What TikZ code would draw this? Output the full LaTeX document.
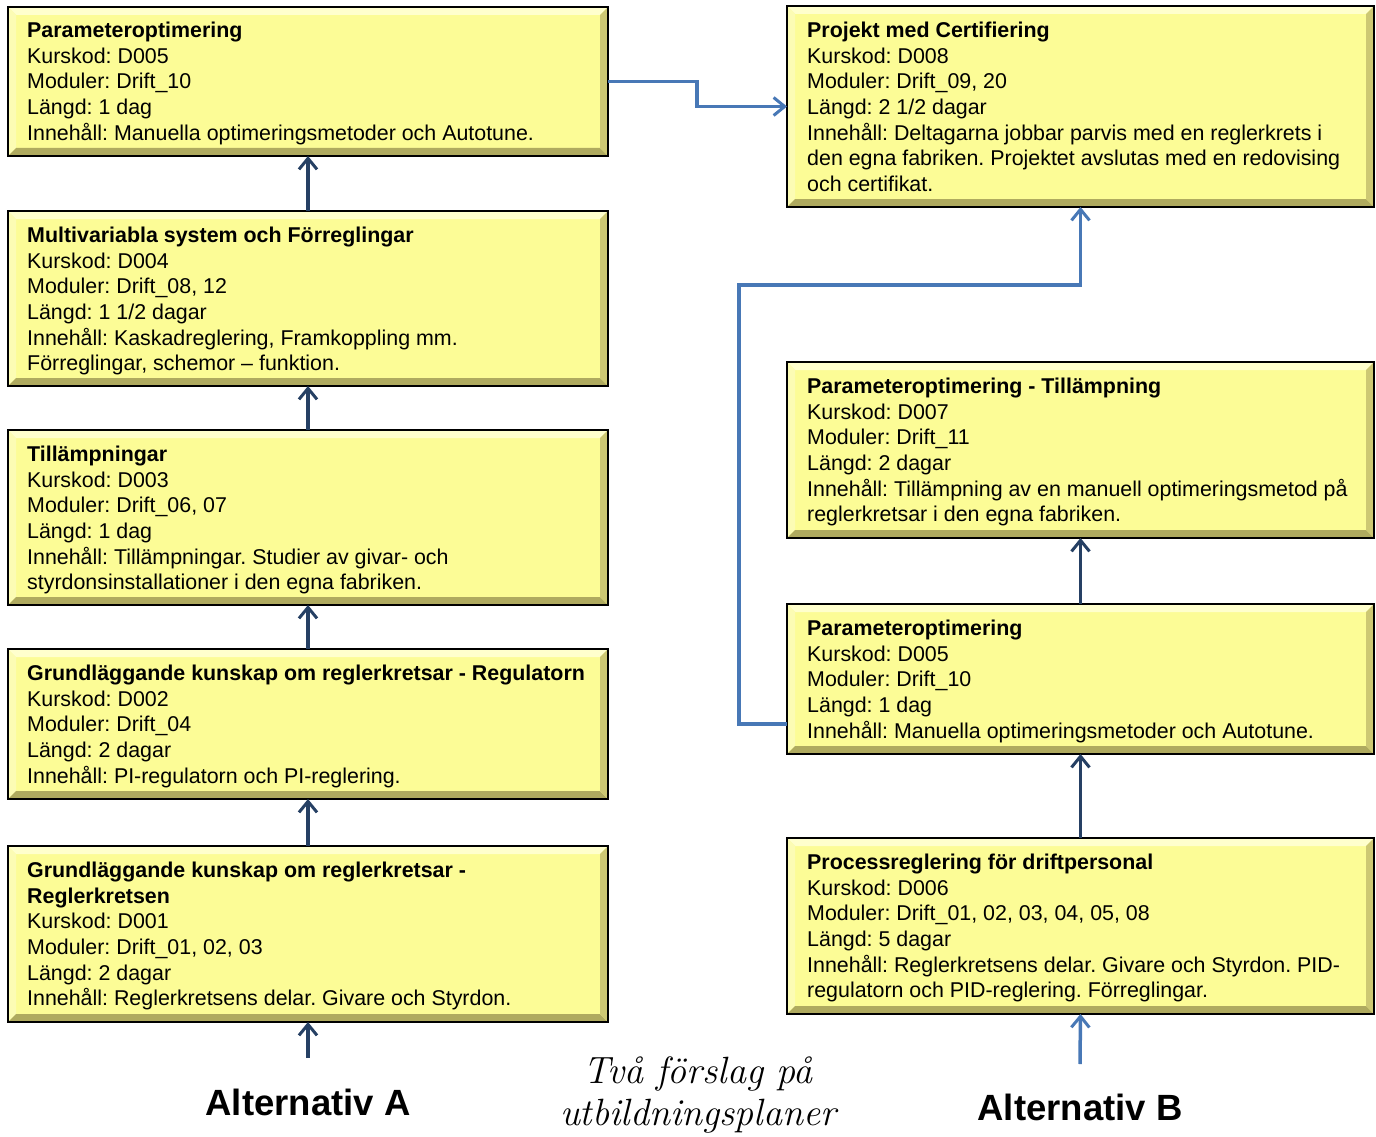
\documentclass[tikz,border=0pt]{standalone}
\usepackage{fontspec}
\setmainfont{Liberation Sans}
\usetikzlibrary{arrows.meta}
\definecolor{boxyellow}{RGB}{252,252,150}
\definecolor{bevlight}{RGB}{255,255,205}
\definecolor{bevleft}{RGB}{252,252,180}
\definecolor{bevdark}{RGB}{175,170,95}
\definecolor{bevright}{RGB}{205,200,115}
\definecolor{navyarrow}{RGB}{38,64,100}
\definecolor{connblue}{RGB}{72,120,182}
\tikzset{
  cbox/.style={draw=black, line width=2pt, fill=boxyellow, anchor=north west,
    inner sep=0pt, outer sep=0pt,
    path picture={
      \fill[bevlight] (path picture bounding box.north west) -- (path picture bounding box.north east)
        -- ([shift={(-8pt,-8pt)}]path picture bounding box.north east) -- ([shift={(8pt,-8pt)}]path picture bounding box.north west) -- cycle;
      \fill[bevleft] (path picture bounding box.north west) -- (path picture bounding box.south west)
        -- ([shift={(8pt,8pt)}]path picture bounding box.south west) -- ([shift={(8pt,-8pt)}]path picture bounding box.north west) -- cycle;
      \fill[bevdark] (path picture bounding box.south west) -- (path picture bounding box.south east)
        -- ([shift={(-8pt,8pt)}]path picture bounding box.south east) -- ([shift={(8pt,8pt)}]path picture bounding box.south west) -- cycle;
      \fill[bevright] (path picture bounding box.north east) -- (path picture bounding box.south east)
        -- ([shift={(-8pt,8pt)}]path picture bounding box.south east) -- ([shift={(-8pt,-8pt)}]path picture bounding box.north east) -- cycle;
    }},
  ctext/.style={anchor=north west, inner sep=0pt, align=left,
    font=\fontsize{21.4}{25.6}\selectfont},
  tip/.style={-{Straight Barb[length=11pt,width=18pt,line width=3pt]}},
  uparrow/.style={draw=navyarrow, line width=3.5pt, tip},
  lightarrow/.style={draw=connblue, line width=3.5pt, tip},
  conn/.style={draw=connblue, line width=3.5pt},
  connarrow/.style={conn, tip},
  alt/.style={font=\fontsize{36.5}{40}\selectfont\bfseries, inner sep=0pt},
  hand/.style={font=\fontfamily{lmr}\fontsize{38}{42}\selectfont\itshape, align=center, inner sep=0pt}
}
\begin{document}
\frenchspacing
\begin{tikzpicture}[x=1pt,y=-1pt]
\useasboundingbox (0,0) rectangle (1376,1137);

% Left column boxes
\node[cbox, minimum width=600pt, minimum height=149pt] (a1) at (8,7) {};
\node[cbox, minimum width=600pt, minimum height=175pt] (a2) at (8,211) {};
\node[cbox, minimum width=600pt, minimum height=175pt] (a3) at (8,430) {};
\node[cbox, minimum width=600pt, minimum height=150pt] (a4) at (8,649) {};
\node[cbox, minimum width=600pt, minimum height=176pt] (a5) at (8,846) {};

% Right column boxes
\node[cbox, minimum width=587pt, minimum height=201pt] (b1) at (787,6) {};
\node[cbox, minimum width=587pt, minimum height=176pt] (b2) at (787,362) {};
\node[cbox, minimum width=587pt, minimum height=150pt] (b3) at (787,604) {};
\node[cbox, minimum width=587pt, minimum height=176pt] (b4) at (787,838) {};

% Texts
\node[ctext] (a1t) at ([shift={(19,15)}]a1.north west) {\textbf{Parameteroptimering}\\Kurskod: D005\\Moduler: Drift\_10\\Längd: 1 dag\\Innehåll: Manuella optimeringsmetoder och Autotune.};
\node[ctext] (a2t) at ([shift={(19,16)}]a2.north west) {\textbf{Multivariabla system och Förreglingar}\\Kurskod: D004\\Moduler: Drift\_08, 12\\Längd: 1 1/2 dagar\\Innehåll: Kaskadreglering, Framkoppling mm.\\Förreglingar, schemor – funktion.};
\node[ctext] (a3t) at ([shift={(19,16)}]a3.north west) {\textbf{Tillämpningar}\\Kurskod: D003\\Moduler: Drift\_06, 07\\Längd: 1 dag\\Innehåll: Tillämpningar. Studier av givar- och\\styrdonsinstallationer i den egna fabriken.};
\node[ctext] (a4t) at ([shift={(19,16)}]a4.north west) {\textbf{Grundläggande kunskap om reglerkretsar - Regulatorn}\\Kurskod: D002\\Moduler: Drift\_04\\Längd: 2 dagar\\Innehåll: PI-regulatorn och PI-reglering.};
\node[ctext] (a5t) at ([shift={(19,16)}]a5.north west) {\textbf{Grundläggande kunskap om reglerkretsar -}\\\textbf{Reglerkretsen}\\Kurskod: D001\\Moduler: Drift\_01, 02, 03\\Längd: 2 dagar\\Innehåll: Reglerkretsens delar. Givare och Styrdon.};

\node[ctext] (b1t) at ([shift={(20,16)}]b1.north west) {\textbf{Projekt med Certifiering}\\Kurskod: D008\\Moduler: Drift\_09, 20\\Längd: 2 1/2 dagar\\Innehåll: Deltagarna jobbar parvis med en reglerkrets i\\den egna fabriken. Projektet avslutas med en redovising\\och certifikat.};
\node[ctext] (b2t) at ([shift={(20,16)}]b2.north west) {\textbf{Parameteroptimering - Tillämpning}\\Kurskod: D007\\Moduler: Drift\_11\\Längd: 2 dagar\\Innehåll: Tillämpning av en manuell optimeringsmetod på\\reglerkretsar i den egna fabriken.};
\node[ctext] (b3t) at ([shift={(20,16)}]b3.north west) {\textbf{Parameteroptimering}\\Kurskod: D005\\Moduler: Drift\_10\\Längd: 1 dag\\Innehåll: Manuella optimeringsmetoder och Autotune.};
\node[ctext] (b4t) at ([shift={(20,16)}]b4.north west) {\textbf{Processreglering för driftpersonal}\\Kurskod: D006\\Moduler: Drift\_01, 02, 03, 04, 05, 08\\Längd: 5 dagar\\Innehåll: Reglerkretsens delar. Givare och Styrdon. PID-\\regulatorn och PID-reglering. Förreglingar.};

% Bottom labels
\node[alt] (altA) at (308,1102) {Alternativ A};
\node[alt] (altB) at (1080,1107) {Alternativ B};
\node[hand] (title) at (698,1095) {Två förslag på\\utbildningsplaner};

% Start coordinates
\coordinate (sA) at (308,1058);
\coordinate (sB) at (1080,1064);
\coordinate (turn) at (739,285);

% Left chain
\draw[uparrow] (sA) -- (a5.south);
\draw[uparrow] (a5.north) -- (a4.south);
\draw[uparrow] (a4.north) -- (a3.south);
\draw[uparrow] (a3.north) -- (a2.south);
\draw[uparrow] (a2.north) -- (a1.south);

% Right chain
\draw[lightarrow] (sB) -- (b4.south);
\draw[uparrow] (b4.north) -- (b3.south);
\draw[uparrow] (b3.north) -- (b2.south);

% Connectors
\draw[connarrow] (a1.east) -- ++(89,0) |- (b1.west);
\draw[connarrow] ([yshift=-45pt]b3.west) -| (turn) -| (b1.south);
\end{tikzpicture}
\end{document}
